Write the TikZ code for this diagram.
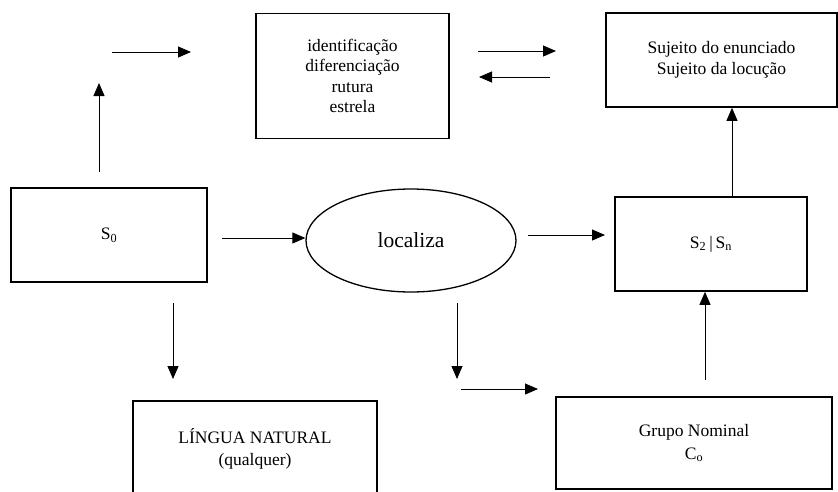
\documentclass[tikz,border=0pt]{standalone}
\usepackage{fontspec}
\setmainfont{Liberation Serif}
\usetikzlibrary{arrows.meta,shapes.geometric}

\begin{document}
\begin{tikzpicture}[x=1pt,y=-1pt]
  \tikzset{caixa/.style={draw,line width=1.6pt,inner sep=0pt,align=center,minimum width=#1,font=\fontsize{17.5}{21}\selectfont},
    seta/.style={-{Triangle[length=13pt,width=11pt]},line width=0.9pt}}
  \useasboundingbox (0,0) rectangle (838,491);

  \node [caixa=196pt,minimum height=94pt] (S0) at (109,235) {S\textsubscript{0}};
  \node [caixa=193pt,minimum height=125pt,font=\fontsize{17.5}{20.5}\selectfont] (ident) at (352.5,76) {identificação\\diferenciação\\rutura\\estrela};
  \node [caixa=231pt,minimum height=94pt,font=\fontsize{17.5}{21}\selectfont] (suj) at (721.5,60) {Sujeito do enunciado\\Sujeito da locução};
  \node [caixa=192pt,minimum height=94pt] (S2) at (711,244) {S\textsubscript{2}\,|\,S\textsubscript{n}};
  \node [draw,ellipse,line width=1.3pt,inner sep=0pt,minimum width=210pt,minimum height=103pt,font=\fontsize{21.5}{25}\selectfont] (loc) at (411,240.5) {localiza};
  \node [caixa=244pt,minimum height=96pt,font=\fontsize{17.5}{22}\selectfont] (lingua) at (255,449) {LÍNGUA NATURAL\\(qualquer)};
  \node [caixa=276pt,minimum height=92pt,font=\fontsize{17.5}{23}\selectfont] (grupo) at (694,443) {Grupo Nominal\\C\textsubscript{o}};

  % pontas soltas das setas
  \coordinate (a1) at (99,172);   \coordinate (a2) at (99,83);
  \coordinate (b1) at (112,52);   \coordinate (b2) at (191,52);
  \coordinate (c1) at (478,51);   \coordinate (c2) at (556,51);
  \coordinate (d1) at (550,77);   \coordinate (d2) at (479,77);
  \coordinate (e1) at (222,238);
  \coordinate (f1) at (528,235);  \coordinate (f2) at (605,235);
  \coordinate (g1) at (173,303);  \coordinate (g2) at (173,379);
  \coordinate (h1) at (457,303);  \coordinate (h2) at (457,379);
  \coordinate (i1) at (461,389);  \coordinate (i2) at (538,389);
  \coordinate (j1) at (705,380);
  \coordinate (k1) at (732,0);

  \draw [seta] (a1) -- (a2);
  \draw [seta] (b1) -- (b2);
  \draw [seta] (c1) -- (c2);
  \draw [seta] (d1) -- (d2);
  \draw [seta] (e1) -- (e1 -| loc.west);
  \draw [seta] (f1) -- (f2);
  \draw [seta] (g1) -- (g2);
  \draw [seta] (h1) -- (h2);
  \draw [seta] (i1) -- (i2);
  \draw [seta] (j1) -- (j1 |- S2.south);
  \draw [seta] (S2.north -| k1) -- (suj.south -| k1);
\end{tikzpicture}
\end{document}
